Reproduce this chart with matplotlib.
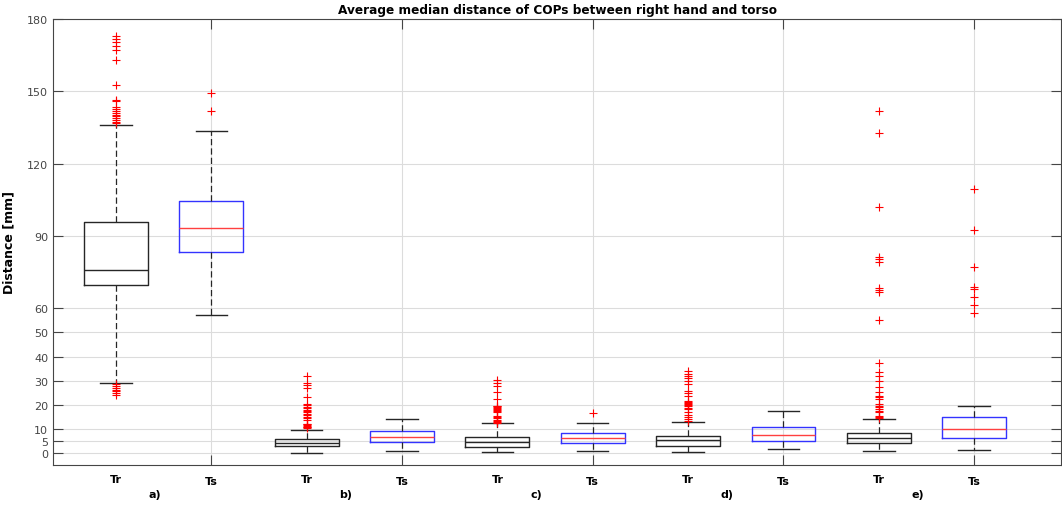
import matplotlib as mpl
mpl.use('Agg')
import matplotlib.pyplot as plt

# group names and box labels
groups = ['a)', 'b)', 'c)', 'd)', 'e)']
kinds = ['Tr', 'Ts']

# box statistics, one entry per box (Tr, Ts, Tr, Ts, ...)
medians = [76.0, 93.2, 4.1, 6.8, 4.4, 6.4, 5.4, 7.6, 6.4, 10.1]
q1s = [69.5, 83.3, 2.8, 4.4, 2.3, 4.3, 3.0, 5.1, 4.3, 6.1]
q3s = [96.0, 104.7, 5.7, 9.1, 6.5, 8.3, 6.9, 10.6, 8.3, 14.8]
whis_lo = [29.0, 57.4, 0.1, 1.0, 0.3, 0.8, 0.3, 1.8, 0.6, 1.2]
whis_hi = [136.0, 133.7, 9.7, 14.0, 12.6, 12.4, 12.9, 17.3, 14.1, 19.4]

fliers = [
    [24.0, 24.8, 25.5, 26.3, 27.0, 27.8, 28.4, 136.8, 137.4, 138.0, 138.8, 139.6,
     140.3, 141.0, 141.8, 142.6, 143.3, 145.8, 146.6, 152.6, 163.0, 167.0, 168.8,
     170.5, 171.8, 173.0],
    [141.7, 149.2],
    [10.3, 10.6, 10.9, 11.2, 11.5, 11.8, 12.1, 13.5, 14.3, 15.0, 15.6, 16.2, 16.8,
     17.4, 18.0, 18.6, 19.2, 19.8, 20.2, 23.1, 26.8, 28.2, 29.0, 31.8],
    [],
    [12.3, 12.8, 13.3, 13.8, 14.3, 15.0, 15.5, 16.9, 17.3, 17.7, 18.1, 18.5, 18.9,
     19.3, 19.6, 22.4, 25.2, 27.7, 29.0, 30.4],
    [16.4],
    [13.2, 14.0, 14.8, 15.8, 17.0, 18.3, 18.8, 19.3, 19.8, 20.3, 20.8, 21.3, 21.7,
     23.8, 24.8, 25.8, 28.6, 29.8, 31.0, 32.0, 32.8, 34.1],
    [],
    [14.3, 14.8, 15.5, 16.9, 17.5, 18.2, 18.9, 19.6, 20.3, 22.4, 23.0, 23.8, 25.2,
     27.2, 30.0, 32.1, 33.6, 37.2, 55.2, 66.6, 67.5, 68.3, 79.1, 80.3, 81.2, 101.9,
     132.7, 142.0],
    [58.1, 61.4, 64.6, 68.0, 68.7, 77.3, 92.6, 109.5],
]

yticks = [0, 5, 10, 20, 30, 40, 50, 60, 90, 120, 150, 180]

fig = plt.figure(figsize=(10.62, 5.06), dpi=100)
ax = fig.add_axes([53 / 1062, 40 / 506, 1008 / 1062, 446 / 506])

dark = '#262626'
gray = '#454545'
stats = []
for i in range(len(medians)):
    stats.append(dict(med=medians[i], q1=q1s[i], q3=q3s[i],
                      whislo=whis_lo[i], whishi=whis_hi[i], fliers=fliers[i]))

positions = list(range(1, len(stats) + 1))
for i, st in enumerate(stats):
    ts = (i % 2 == 1)
    edge = '#3333ff' if ts else dark
    med = '#ff4040' if ts else dark
    ax.bxp([st], positions=[positions[i]], widths=0.67, showfliers=True,
           boxprops=dict(color=edge, linewidth=1.0),
           medianprops=dict(color=med, linewidth=1.0),
           whiskerprops=dict(color=dark, linewidth=0.9, linestyle=(0, (5, 2.5))),
           capprops=dict(color=dark, linewidth=1.0),
           capwidths=0.33,
           flierprops=dict(marker='+', color='red', markeredgecolor='red',
                           markerfacecolor='red', markersize=6,
                           markeredgewidth=0.8, linestyle='none'))

ax.set_xlim(0.34, 10.91)
ax.set_ylim(-5, 180)
ax.set_yticks(yticks)
ax.set_xticks(positions[1::2])
ax.set_xticklabels([])
ax.grid(True, color='#dcdcdc', linewidth=0.8)
ax.set_axisbelow(True)
ax.tick_params(direction='in', length=7, width=0.8, color=gray,
               top=True, right=True, labelsize=8, labelcolor=gray)
for sp in ax.spines.values():
    sp.set_color(gray)
    sp.set_linewidth(0.8)

# box labels and group labels under the axis
trans = ax.get_xaxis_transform()
for i, p in enumerate(positions):
    k = kinds[i % 2]
    yy = -0.031 if k == 'Tr' else -0.036
    ax.text(p, yy, k, transform=trans, ha='center', va='center',
            fontsize=8, fontweight='bold', color='black')
for g, name in enumerate(groups):
    ax.text(positions[2 * g] + 0.41, -0.065, name, transform=trans,
            ha='center', va='center', fontsize=8, fontweight='bold')

ax.set_title('Average median distance of COPs between right hand and torso',
             fontsize=8.7, fontweight='bold', pad=4)
ax.set_ylabel('Distance [mm]', fontsize=9, fontweight='bold', labelpad=8)

fig.savefig('out.png', dpi=100)
